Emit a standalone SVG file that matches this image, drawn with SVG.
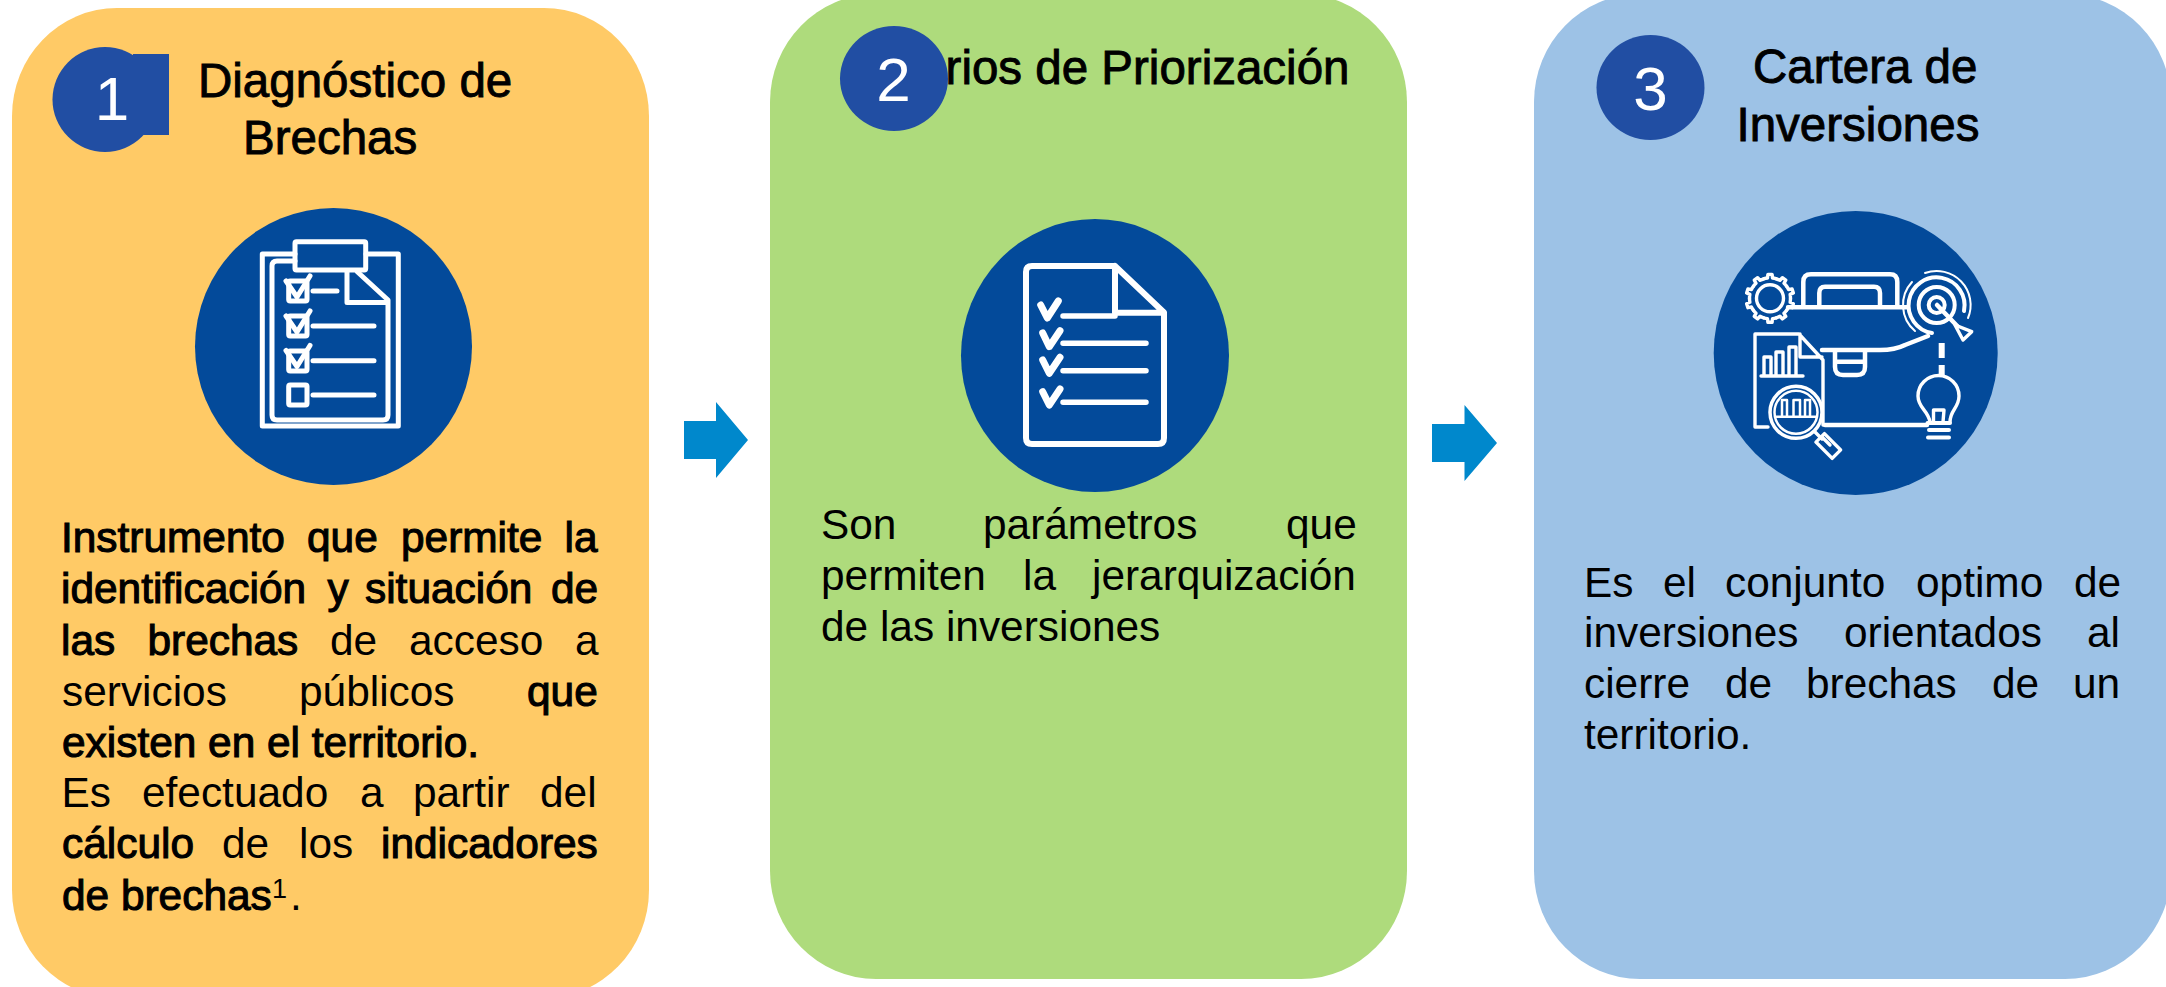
<svg xmlns="http://www.w3.org/2000/svg" xmlns:xlink="http://www.w3.org/1999/xlink" width="2166" height="987" viewBox="0 0 2166 987">
<style>
text{font-family:"Liberation Sans",Arial,sans-serif;fill:#000}
.body{font-size:42.4px}
.b{stroke:#000;stroke-width:1.1}
.title{font-size:47.5px;stroke:#000;stroke-width:.9}
.num{font-size:62px;fill:#fff;text-anchor:middle}
.disc{fill:#034A9A}
.badge{fill:#214EA3}
.ic{fill:none;stroke:#fff;stroke-linecap:round;stroke-linejoin:round}
.arrow{fill:#0088CC}
</style>
<defs>
<path id="tooth" d="M-6.33,-19.5 A20.5,20.5 0 0 1 -2.5,-20.35 L-2.1,-23.9 H2.1 L2.5,-20.35 A20.5,20.5 0 0 1 6.33,-19.5"/>
<polyline id="tick" points="-11,-10 0,6 13,-15"/>
</defs>
<rect width="2166" height="987" fill="#fff"/>

<g id="node-1">
<rect x="12" y="8" width="637" height="990" rx="105" ry="108" fill="#FFCA66"/>
<text class="title" x="198" y="96.5">Diagnóstico de</text>
<text class="title" x="243" y="154">Brechas</text>
<circle class="badge" cx="105" cy="99.5" r="52.5"/>
<rect class="badge" x="133" y="54" width="36" height="81"/>
<text class="num" x="112" y="120">1</text>
<ellipse class="disc" cx="333.5" cy="346.5" rx="138.5" ry="138.5"/>
<g class="ic" stroke-width="5">
<path d="M295,254 H262.3 V426 H398.3 V254 H366"/>
<rect x="295" y="241.7" width="70.7" height="28.3" rx="1.5"/>
<path d="M295,261 H277 Q272,261 272,266 V415 Q272,420 277,420 H383 Q388,420 388,415 V300 L357,271.5 M347,271 V302.5 H388"/>
<rect x="288.7" y="281" width="18.3" height="20" rx="1.5"/>
<rect x="288.7" y="316" width="18.3" height="20" rx="1.5"/>
<rect x="288.7" y="351" width="18.3" height="20" rx="1.5"/>
<rect x="288.7" y="385" width="18.3" height="20" rx="1.5"/>
<use xlink:href="#tick" href="#tick" x="297" y="291"/>
<use xlink:href="#tick" href="#tick" x="297" y="326"/>
<use xlink:href="#tick" href="#tick" x="297" y="360.5"/>
<path d="M313,291 H337 M313,326 H374 M313,360.7 H374 M313,395 H374"/>
</g>
<text class="body">
<tspan class="b" x="61" y="552">Instrumento</tspan><tspan class="b" x="307" y="552">que</tspan><tspan class="b" x="401" y="552">permite</tspan><tspan class="b" x="564.5" y="552">la</tspan>
<tspan class="b" x="61" y="603">identificación</tspan><tspan class="b" x="327.5" y="603">y</tspan><tspan class="b" x="365" y="603">situación</tspan><tspan class="b" x="551" y="603">de</tspan>
<tspan class="b" x="61" y="654.5">las</tspan><tspan class="b" x="147.5" y="654.5">brechas</tspan><tspan x="330" y="654.5">de</tspan><tspan x="409" y="654.5">acceso</tspan><tspan x="575" y="654.5">a</tspan>
<tspan x="62" y="705.7">servicios</tspan><tspan x="299" y="705.7">públicos</tspan><tspan class="b" x="527" y="705.7">que</tspan>
<tspan class="b" x="62" y="756.7">existen en el territorio.</tspan>
<tspan x="61.5" y="807">Es</tspan><tspan x="142" y="807">efectuado</tspan><tspan x="360" y="807">a</tspan><tspan x="413" y="807">partir</tspan><tspan x="540" y="807">del</tspan>
<tspan class="b" x="62" y="858">cálculo</tspan><tspan x="222" y="858">de</tspan><tspan x="299" y="858">los</tspan><tspan class="b" x="381" y="858">indicadores</tspan>
<tspan class="b" x="62" y="910">de brechas</tspan><tspan x="272" y="898" font-size="27">1</tspan><tspan x="290" y="910">.</tspan>
</text>
</g>

<g id="node-2">
<rect x="770" y="-6" width="637" height="985" rx="106" ry="108" fill="#AEDB7C"/>
<text class="title" x="1349.5" y="83.5" text-anchor="end">Criterios de Priorización</text>
<ellipse class="badge" cx="894" cy="78.5" rx="54" ry="52.5"/>
<text class="num" x="893.5" y="101">2</text>
<ellipse class="disc" cx="1095" cy="355.5" rx="134" ry="136.5"/>
<g class="ic" stroke-width="6">
<path d="M1115,266 H1032 Q1026,266 1026,272 V438 Q1026,444 1032,444 H1158 Q1164,444 1164,438 V312.5 L1115,266 V312.7 H1164"/>
<path stroke-width="5.5" d="M1063,316 H1115 M1063,343.3 H1146 M1063,370.7 H1146 M1063,402.3 H1146"/>
<path stroke-width="7" d="M1040.7,305 L1047.3,318 L1058.3,301 M1042.7,333 L1049.3,346.7 L1060,330.7 M1042.7,360 L1049.3,373.3 L1060,357.3 M1042.7,391.7 L1049.3,405 L1060,389"/>
</g>
<text class="body">
<tspan x="821" y="538.7">Son</tspan><tspan x="983" y="538.7">parámetros</tspan><tspan x="1286" y="538.7">que</tspan>
<tspan x="821" y="590">permiten</tspan><tspan x="1023" y="590">la</tspan><tspan x="1092" y="590">jerarquización</tspan>
<tspan x="821" y="641">de las inversiones</tspan>
</text>
</g>

<g id="node-3">
<rect x="1534" y="-6" width="637" height="985" rx="106" ry="108" fill="#9DC2E6"/>
<text class="title" x="1753" y="83.3">Cartera de</text>
<text class="title" x="1736.5" y="141">Inversiones</text>
<ellipse class="badge" cx="1650.5" cy="87.5" rx="54" ry="52.5"/>
<text class="num" x="1650.5" y="110">3</text>
<ellipse class="disc" cx="1855.7" cy="353" rx="142" ry="142"/>
<g class="ic" stroke-width="3.4">
<circle cx="1770" cy="298.3" r="13.5"/>
<g transform="translate(1770 298.3)">
<use href="#tooth"/><use href="#tooth" transform="rotate(36)"/><use href="#tooth" transform="rotate(72)"/><use href="#tooth" transform="rotate(108)"/><use href="#tooth" transform="rotate(144)"/><use href="#tooth" transform="rotate(180)"/><use href="#tooth" transform="rotate(216)"/><use href="#tooth" transform="rotate(252)"/><use href="#tooth" transform="rotate(288)"/><use href="#tooth" transform="rotate(324)"/>
</g>
<path stroke-width="4.5" d="M1803.3,306 V282 Q1803.3,274.3 1811,274.3 H1890 Q1897.3,274.3 1897.3,282 V306 M1819.3,306 V293 Q1819.3,286.7 1825,286.7 H1874 Q1880,286.7 1880,293 V306 M1788,307.3 H1906.7"/>
<path stroke-width="4.5" d="M1822,350 H1880 Q1895,350 1905,345 L1928,336 M1835,352 V367 Q1835,375 1843,375 H1857 Q1865,375 1865,367 V352 M1836,361.7 H1864 M1825,425 H1927"/>
<path d="M1768,427 H1755 V334 H1799 L1823,360 V425 M1800,334 V357 H1822"/>
<path d="M1761,376 H1803 M1764,376 V357 H1771 V376 M1776,376 V352 H1783 V376 M1789,376 V347 H1796 V376"/>
<circle cx="1796" cy="412.3" r="26" stroke-width="3.5"/>
<circle cx="1796" cy="412.3" r="21.5" stroke-width="2.5"/>
<path stroke-width="2.5" d="M1776,416.7 H1816 M1782,416 V400 H1787 V416 M1793.5,416 V400 H1800 V416 M1805,416 V400 H1810 V416"/>
<path d="M1815,432 L1822,439"/>
<rect x="1816.8" y="440" width="23" height="12" transform="rotate(45 1828.3 446)"/>
<path d="M1822,437 L1830,445"/>
<circle cx="1936.7" cy="305" r="8" stroke-width="4"/>
<circle cx="1936.7" cy="305" r="18" stroke-width="4"/>
<path stroke-width="4" d="M1932,333 A28,28 0 1 1 1964,311"/>
<path stroke-width="2" d="M1915,331 A34,34 0 0 1 1912,282 M1925,273 A34,34 0 0 1 1968,318"/>
<path stroke-width="4.5" d="M1937,305 L1962,331"/>
<path fill="#034A9A" d="M1955,325 L1971.7,331.7 L1963,340 Z"/>
<path d="M1930,422 C1928,410 1918,408 1918,396 A20.5,20.5 0 1 1 1959,396 C1959,408 1950,410 1950,422 M1933.5,422 L1933.5,410 H1944 L1943,422"/>
<path stroke-width="4" d="M1927.5,423 H1950 M1929,430 H1949 M1928,437.5 H1949"/>
<path stroke-width="6" stroke-linecap="butt" d="M1941.7,343 V358 M1941.7,365 V376"/>
</g>
<text class="body">
<tspan x="1584" y="596.7">Es</tspan><tspan x="1663" y="596.7">el</tspan><tspan x="1725" y="596.7">conjunto</tspan><tspan x="1916" y="596.7">optimo</tspan><tspan x="2074" y="596.7">de</tspan>
<tspan x="1584" y="647">inversiones</tspan><tspan x="1844" y="647">orientados</tspan><tspan x="2087" y="647">al</tspan>
<tspan x="1584" y="698">cierre</tspan><tspan x="1725" y="698">de</tspan><tspan x="1806" y="698">brechas</tspan><tspan x="1992" y="698">de</tspan><tspan x="2073" y="698">un</tspan>
<tspan x="1584" y="749">territorio.</tspan>
</text>
</g>

<g id="connectors">
<polygon class="arrow" points="684,421 716,421 716,402 748,440 716,478 716,459 684,459"/>
<polygon class="arrow" points="1432,424 1464.5,424 1464.5,405 1497,443 1464.5,481 1464.5,462 1432,462"/>
</g>
</svg>
